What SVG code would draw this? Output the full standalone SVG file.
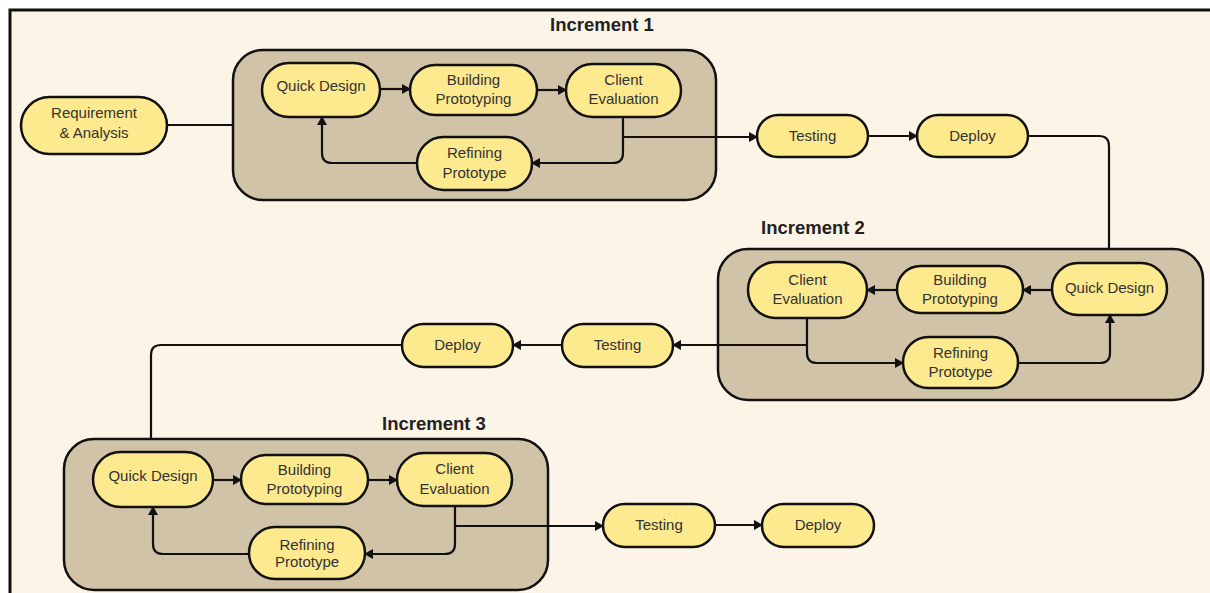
<svg xmlns="http://www.w3.org/2000/svg" width="1210" height="593" viewBox="0 0 1210 593">
<style>
.cont{fill:#d0c3a8;stroke:#111;stroke-width:2.5}
.node{fill:#fde98e;stroke:#111;stroke-width:2.5}
.lbl{font-family:"Liberation Sans",Arial,sans-serif;font-size:15px;fill:#333;text-anchor:middle}
.title{font-family:"Liberation Sans",Arial,sans-serif;font-size:18.5px;font-weight:bold;fill:#222;text-anchor:middle}
.c{fill:none;stroke:#111;stroke-width:2.2}
.a{marker-end:url(#arr)}
</style>
<defs>
<marker id="arr" markerUnits="userSpaceOnUse" markerWidth="9" markerHeight="10" refX="8" refY="5" orient="auto">
<path d="M0,0 L9,5 L0,10 z" fill="#111"/>
</marker>
</defs>
<rect width="1210" height="593" fill="#fff"/>
<rect x="10" y="10" width="1200" height="583" fill="#fdf4e8"/>
<path d="M10,593 V10 H1210" fill="none" stroke="#111" stroke-width="3"/>

<text class="title" x="602" y="31">Increment 1</text>
<text class="title" x="813" y="234">Increment 2</text>
<text class="title" x="434" y="430">Increment 3</text>

<g id="containers">
<rect id="increment1" class="cont" x="233" y="50" width="483" height="150" rx="30"/>
<rect id="increment2" class="cont" x="718" y="249" width="485" height="151" rx="30"/>
<rect id="increment3" class="cont" x="64" y="439" width="484" height="151" rx="30"/>
</g>

<g id="connectors">
<path class="c" d="M167,125 H233"/>
<path class="c a" d="M380,89 H410"/>
<path class="c a" d="M537,90 H566"/>
<path class="c a" d="M623,117 V153 Q623,163 613,163 H532"/>
<path class="c a" d="M417,163 H332 Q322,163 322,153 V117"/>
<path class="c a" d="M623,137 H757"/>
<path class="c a" d="M868,136 H917"/>
<path class="c" d="M1028,136 H1099 Q1109,136 1109,146 V249"/>
<path class="c a" d="M1052,290 H1023"/>
<path class="c a" d="M897,290 H867"/>
<path class="c a" d="M807,318 V353 Q807,363 817,363 H903"/>
<path class="c a" d="M1018,363 H1100 Q1110,363 1110,353 V315"/>
<path class="c a" d="M807,345 H673"/>
<path class="c a" d="M562,345 H513"/>
<path class="c" d="M402,345 H161 Q151,345 151,355 V439"/>
<path class="c a" d="M213,480 H241"/>
<path class="c a" d="M368,480 H397"/>
<path class="c a" d="M455,506 V544 Q455,554 445,554 H365"/>
<path class="c a" d="M249,554 H163 Q153,554 153,544 V507"/>
<path class="c a" d="M455,526 H603"/>
<path class="c a" d="M715,525 H762"/>
</g>

<g id="req">
<rect class="node" x="21" y="97" width="146" height="57" rx="28.5"/>
<text class="lbl" x="94" y="118">Requirement</text>
<text class="lbl" x="94" y="138">&amp; Analysis</text>
</g>

<g id="qd1">
<rect class="node" x="262" y="63" width="118" height="54" rx="27"/>
<text class="lbl" x="321" y="91">Quick Design</text>
</g>
<g id="bp1">
<rect class="node" x="410" y="65" width="127" height="50" rx="25"/>
<text class="lbl" x="473.5" y="85">Building</text>
<text class="lbl" x="473.5" y="104">Prototyping</text>
</g>
<g id="ce1">
<rect class="node" x="566" y="64" width="115" height="53" rx="26.5"/>
<text class="lbl" x="623.5" y="85">Client</text>
<text class="lbl" x="623.5" y="104">Evaluation</text>
</g>
<g id="ref1">
<rect class="node" x="417" y="137" width="115" height="53" rx="26.5"/>
<text class="lbl" x="474.5" y="158">Refining</text>
<text class="lbl" x="474.5" y="178">Prototype</text>
</g>
<g id="test1">
<rect class="node" x="757" y="115" width="111" height="42" rx="21"/>
<text class="lbl" x="812.5" y="141">Testing</text>
</g>
<g id="dep1">
<rect class="node" x="917" y="115" width="111" height="42" rx="21"/>
<text class="lbl" x="972.5" y="141">Deploy</text>
</g>

<g id="ce2">
<rect class="node" x="748" y="262" width="119" height="56" rx="28"/>
<text class="lbl" x="807.5" y="285">Client</text>
<text class="lbl" x="807.5" y="304">Evaluation</text>
</g>
<g id="bp2">
<rect class="node" x="897" y="266" width="126" height="47" rx="23.5"/>
<text class="lbl" x="960" y="285">Building</text>
<text class="lbl" x="960" y="304">Prototyping</text>
</g>
<g id="qd2">
<rect class="node" x="1052" y="263" width="115" height="52" rx="26"/>
<text class="lbl" x="1109.5" y="293">Quick Design</text>
</g>
<g id="ref2">
<rect class="node" x="903" y="337" width="115" height="51" rx="25.5"/>
<text class="lbl" x="960.5" y="358">Refining</text>
<text class="lbl" x="960.5" y="377">Prototype</text>
</g>
<g id="test2">
<rect class="node" x="562" y="324" width="111" height="43" rx="21.5"/>
<text class="lbl" x="617.5" y="350">Testing</text>
</g>
<g id="dep2">
<rect class="node" x="402" y="324" width="111" height="43" rx="21.5"/>
<text class="lbl" x="457.5" y="350">Deploy</text>
</g>

<g id="qd3">
<rect class="node" x="93" y="452" width="120" height="55" rx="27.5"/>
<text class="lbl" x="153" y="481">Quick Design</text>
</g>
<g id="bp3">
<rect class="node" x="241" y="455" width="127" height="49" rx="24.5"/>
<text class="lbl" x="304.5" y="475">Building</text>
<text class="lbl" x="304.5" y="494">Prototyping</text>
</g>
<g id="ce3">
<rect class="node" x="397" y="453" width="115" height="53" rx="26.5"/>
<text class="lbl" x="454.5" y="474">Client</text>
<text class="lbl" x="454.5" y="494">Evaluation</text>
</g>
<g id="ref3">
<rect class="node" x="249" y="527" width="116" height="52" rx="26"/>
<text class="lbl" x="307" y="550">Refining</text>
<text class="lbl" x="307" y="567">Prototype</text>
</g>
<g id="test3">
<rect class="node" x="603" y="504" width="112" height="43" rx="21.5"/>
<text class="lbl" x="659" y="530">Testing</text>
</g>
<g id="dep3">
<rect class="node" x="762" y="504" width="112" height="43" rx="21.5"/>
<text class="lbl" x="818" y="530">Deploy</text>
</g>
</svg>
